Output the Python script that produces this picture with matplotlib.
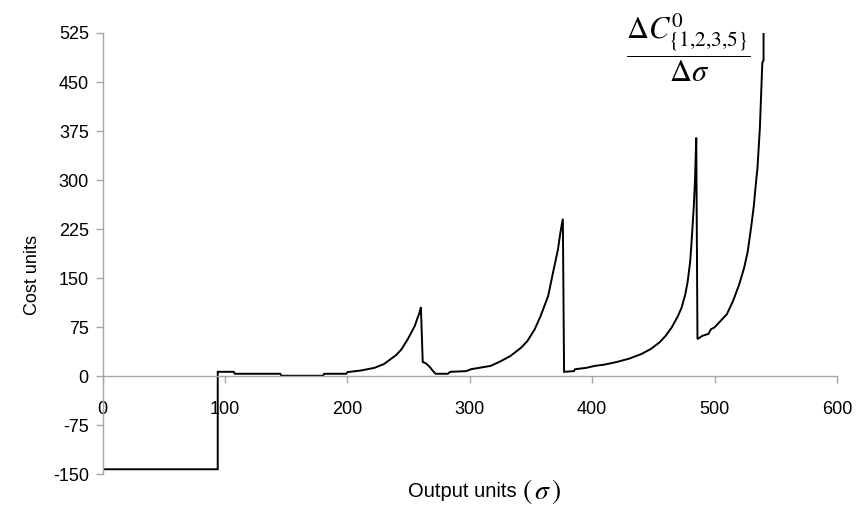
import matplotlib
matplotlib.use("Agg")
import matplotlib.pyplot as plt

plt.rcParams["font.family"] = ["Liberation Sans", "DejaVu Sans"]
plt.rcParams["mathtext.fontset"] = "stix"
plt.rcParams["axes.unicode_minus"] = False

# Marginal cost per output unit (piecewise, with jumps at the switch points)
output_units = [0, 94, 94, 107, 108, 145, 146, 180, 181, 199, 200, 211, 222, 230, 235,
                240, 244, 249, 253, 255, 257, 259, 260, 261.5, 264, 267, 270, 272, 282,
                284, 297, 301, 309, 317, 325, 333, 342, 347, 353, 358, 364, 368, 372,
                374, 376, 377, 385, 386, 395, 402, 410, 420, 430, 440, 448, 455, 460,
                465, 470, 473, 476, 478, 480, 481, 482, 483, 484, 485, 486, 490, 495,
                497, 500, 505, 510, 515, 520, 524, 527, 530, 532, 534, 535, 537, 538,
                539, 540, 540]
cost_units = [-142, -142, 7, 7, 4, 4, 1, 1, 4, 4, 6.5, 9, 13, 19, 26,
              33, 41, 56, 70, 77, 88, 98, 106, 22, 20, 15, 8, 4, 4,
              7, 8, 11, 13.5, 16, 23, 31, 44, 54, 72, 93, 123, 159, 194,
              220, 241, 7, 8, 11, 13, 16, 18, 22, 27, 34, 42, 52, 62,
              75, 92, 105, 125, 145, 175, 200, 230, 260, 300, 365, 57, 62, 65,
              72, 75, 85, 95, 115, 140, 165, 190, 230, 260, 300, 318, 380, 430,
              480, 483, 600]

x_ticks = [0, 100, 200, 300, 400, 500, 600]
y_ticks = [-150, -75, 0, 75, 150, 225, 300, 375, 450, 525]

axis_grey = "#a6a6a6"

fig = plt.figure(figsize=(8.58, 5.18), dpi=100)
ax = fig.add_axes([0.1197, 0.084, 0.8558, 0.8523])

ax.plot(output_units, cost_units, color="black", linewidth=1.4, solid_joinstyle="miter")

ax.set_xlim(0, 600)
ax.set_ylim(-150, 525)
ax.set_xticks(x_ticks)
ax.set_yticks(y_ticks)

for side in ("top", "right"):
    ax.spines[side].set_visible(False)
ax.spines["bottom"].set_position(("data", 0))
for side in ("left", "bottom"):
    ax.spines[side].set_color(axis_grey)
    ax.spines[side].set_linewidth(1.0)

ax.tick_params(axis="both", colors=axis_grey, labelcolor="black", labelsize=13,
               direction="out", length=5, width=1.0)
ax.tick_params(axis="x", pad=13)
ax.tick_params(axis="y", pad=5)

fig.text(0.038, 0.469, "Cost units", rotation=90, fontsize=13, ha="center", va="center")

xl = fig.text(0.475, 0.052, "Output units", fontsize=14.5, ha="left", va="center")
ax.annotate(r"$(\,\sigma\,)$", xy=(1.0, 0.5), xycoords=xl, xytext=(4, 0),
            textcoords="offset points", ha="left", va="center", fontsize=20)

fig.text(0.802, 0.907, r"$\dfrac{\Delta C^{0}_{\{1{,}2{,}3{,}5\}}}{\Delta\sigma}$",
         fontsize=22, ha="center", va="center")

fig.savefig("out.png", dpi=100)
